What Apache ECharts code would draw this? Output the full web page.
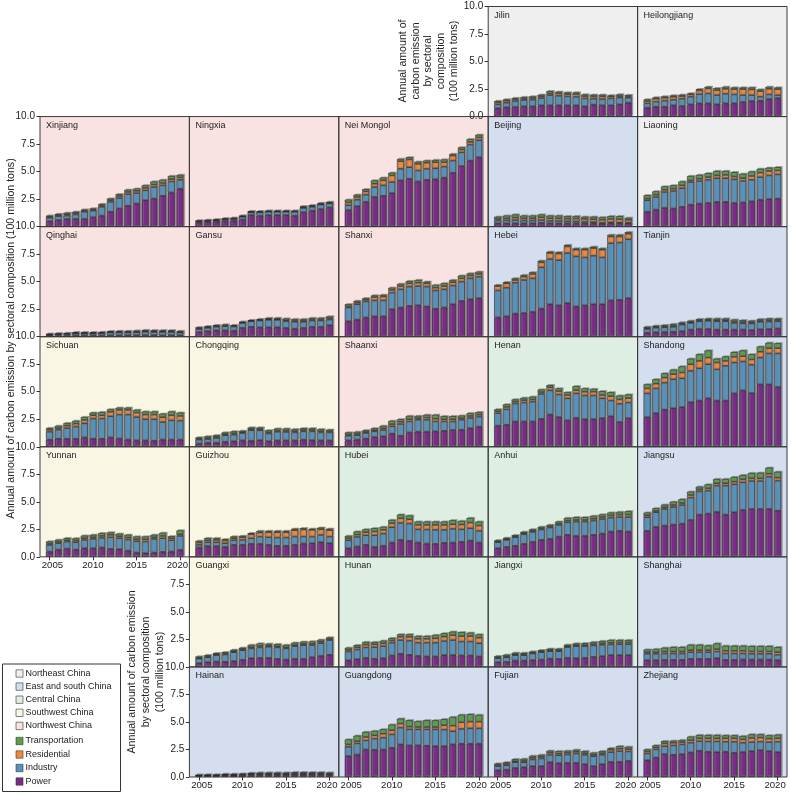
<!DOCTYPE html>
<html>
<head>
<meta charset="utf-8">
<script src="https://cdn.jsdelivr.net/npm/echarts@6/dist/echarts.min.js"></script>
<style>
  html, body { margin: 0; padding: 0; background: #fff; }
  #chart { width: 791px; height: 795px; }
</style>
</head>
<body>
<div id="chart"></div>
<script>
const years = ['2005', '2006', '2007', '2008', '2009', '2010', '2011', '2012', '2013', '2014', '2015', '2016', '2017', '2018', '2019', '2020'];
const yearTicks = ['2005', '2010', '2015', '2020'];
const sectors = ['Power', 'Industry', 'Residential', 'Transportation'];
const regions = ['Northeast China', 'East and south China', 'Central China', 'Southwest China', 'Northwest China'];

// each province: [power, industry, residential, transportation], 100 million tons
const Jilin = [
  [0.75,0.84,0.87,0.93,0.93,1.02,1.02,1.02,1.02,1.02,0.93,1.08,1.02,1.02,1.11,1.26],
  [0.36,0.42,0.54,0.57,0.60,0.66,0.93,0.87,0.81,0.78,0.72,0.54,0.57,0.63,0.60,0.45],
  [0.18,0.18,0.15,0.12,0.15,0.15,0.15,0.21,0.21,0.24,0.21,0.21,0.24,0.18,0.15,0.12],
  [0.12,0.12,0.12,0.15,0.15,0.15,0.21,0.15,0.15,0.15,0.15,0.15,0.15,0.09,0.15,0.12]];
const Heilongjiang = [
  [0.81,0.90,0.90,1.02,0.96,1.11,1.20,1.20,1.11,1.20,1.20,1.32,1.41,1.44,1.59,1.68],
  [0.39,0.45,0.54,0.51,0.66,0.69,0.84,0.90,0.84,0.87,0.81,0.63,0.54,0.36,0.42,0.27],
  [0.21,0.27,0.27,0.27,0.24,0.21,0.33,0.45,0.45,0.45,0.48,0.54,0.51,0.51,0.51,0.54],
  [0.15,0.12,0.12,0.12,0.12,0.09,0.12,0.15,0.18,0.18,0.15,0.15,0.18,0.15,0.18,0.15]];
const Xinjiang = [
  [0.50,0.60,0.70,0.70,0.70,0.85,1.00,1.35,1.65,1.90,2.10,2.40,2.55,2.80,3.10,3.45],
  [0.30,0.35,0.30,0.40,0.65,0.60,0.80,0.90,0.95,1.05,0.95,0.90,1.05,0.95,1.00,0.80],
  [0.10,0.10,0.12,0.12,0.10,0.10,0.12,0.15,0.18,0.20,0.20,0.22,0.22,0.22,0.22,0.22],
  [0.10,0.10,0.13,0.13,0.10,0.10,0.13,0.15,0.17,0.20,0.20,0.23,0.28,0.28,0.28,0.23]];
const Ningxia = [
  [0.35,0.40,0.45,0.50,0.55,0.65,1.05,1.00,1.05,1.05,1.05,1.00,1.30,1.45,1.60,1.75],
  [0.12,0.12,0.12,0.15,0.15,0.25,0.25,0.30,0.30,0.30,0.30,0.35,0.40,0.35,0.40,0.35],
  [0.03,0.03,0.03,0.04,0.04,0.04,0.04,0.04,0.04,0.04,0.04,0.04,0.06,0.06,0.06,0.06],
  [0.05,0.05,0.05,0.06,0.06,0.06,0.06,0.06,0.06,0.06,0.06,0.06,0.09,0.09,0.09,0.09]];
const NeiMongol = [
  [1.50,1.85,2.25,2.70,2.80,3.05,4.20,4.35,4.10,4.25,4.30,4.45,4.90,5.50,6.00,6.30],
  [0.45,0.60,0.65,0.90,0.95,1.00,1.05,1.05,1.00,1.00,1.00,1.00,1.10,1.25,1.45,1.55],
  [0.25,0.25,0.30,0.30,0.45,0.60,0.70,0.70,0.60,0.55,0.55,0.40,0.45,0.25,0.25,0.25],
  [0.25,0.20,0.20,0.30,0.25,0.25,0.20,0.20,0.20,0.20,0.20,0.25,0.15,0.20,0.25,0.25]];
const Beijing = [
  [0.30,0.30,0.30,0.30,0.30,0.35,0.30,0.30,0.30,0.30,0.30,0.30,0.25,0.30,0.30,0.30],
  [0.25,0.27,0.30,0.25,0.25,0.25,0.22,0.22,0.20,0.18,0.15,0.12,0.10,0.10,0.08,0.07],
  [0.15,0.18,0.22,0.20,0.20,0.25,0.23,0.23,0.22,0.25,0.25,0.25,0.27,0.30,0.30,0.25],
  [0.20,0.25,0.28,0.25,0.25,0.25,0.25,0.25,0.23,0.22,0.20,0.23,0.23,0.25,0.27,0.18]];
const Liaoning = [
  [1.35,1.55,1.70,1.65,1.80,2.00,2.10,2.15,2.25,2.25,2.15,2.20,2.30,2.45,2.50,2.55],
  [1.05,1.15,1.45,1.60,1.70,2.05,2.05,2.10,2.15,2.15,2.15,1.95,1.95,2.05,2.15,2.20],
  [0.15,0.20,0.20,0.20,0.25,0.15,0.20,0.25,0.25,0.30,0.25,0.25,0.35,0.40,0.40,0.35],
  [0.30,0.30,0.30,0.30,0.35,0.40,0.35,0.35,0.40,0.35,0.40,0.40,0.40,0.35,0.30,0.30]];
const Qinghai = [
  [0.08,0.10,0.10,0.12,0.12,0.12,0.12,0.13,0.13,0.14,0.15,0.15,0.15,0.13,0.15,0.14],
  [0.10,0.12,0.14,0.18,0.18,0.18,0.20,0.25,0.26,0.25,0.26,0.30,0.28,0.30,0.28,0.24],
  [0.03,0.03,0.03,0.04,0.04,0.04,0.04,0.05,0.05,0.05,0.05,0.06,0.06,0.06,0.06,0.05],
  [0.04,0.05,0.06,0.06,0.06,0.06,0.06,0.07,0.08,0.08,0.09,0.09,0.09,0.09,0.09,0.09]];
const Gansu = [
  [0.43,0.50,0.58,0.58,0.55,0.80,0.90,0.85,0.85,0.85,0.80,0.73,0.80,0.90,0.90,1.05],
  [0.27,0.30,0.32,0.37,0.37,0.45,0.50,0.62,0.68,0.68,0.60,0.62,0.55,0.57,0.57,0.50],
  [0.06,0.07,0.07,0.07,0.07,0.05,0.05,0.05,0.07,0.07,0.10,0.10,0.10,0.08,0.08,0.12],
  [0.09,0.08,0.08,0.08,0.06,0.05,0.05,0.08,0.10,0.10,0.15,0.15,0.15,0.15,0.15,0.17]];
const Shanxi = [
  [1.40,1.55,1.75,1.85,1.85,2.50,2.65,2.80,2.85,2.75,2.55,2.65,2.95,3.25,3.40,3.50],
  [1.25,1.40,1.45,1.45,1.45,1.50,1.65,1.75,1.75,1.80,1.65,1.65,1.70,1.75,1.90,1.95],
  [0.10,0.15,0.15,0.30,0.35,0.25,0.30,0.30,0.30,0.30,0.25,0.30,0.30,0.30,0.25,0.25],
  [0.20,0.15,0.15,0.15,0.15,0.20,0.20,0.20,0.25,0.15,0.25,0.25,0.20,0.25,0.20,0.20]];
const Hebei = [
  [1.75,1.85,2.10,2.15,2.25,2.55,2.95,2.85,3.05,2.75,2.85,2.95,2.95,3.30,3.35,3.50],
  [2.45,2.60,2.80,3.00,3.05,3.75,4.10,4.10,4.55,4.55,4.35,4.40,4.25,5.20,5.20,5.35],
  [0.40,0.40,0.25,0.30,0.40,0.45,0.55,0.60,0.60,0.60,0.70,0.70,0.70,0.60,0.55,0.50],
  [0.10,0.10,0.15,0.15,0.15,0.15,0.12,0.12,0.12,0.12,0.12,0.12,0.12,0.15,0.15,0.15]];
const Tianjin = [
  [0.37,0.40,0.43,0.45,0.50,0.65,0.70,0.70,0.65,0.65,0.65,0.65,0.60,0.67,0.70,0.75],
  [0.33,0.42,0.42,0.45,0.60,0.60,0.70,0.75,0.75,0.75,0.60,0.57,0.60,0.68,0.67,0.65],
  [0.08,0.08,0.08,0.10,0.08,0.08,0.08,0.08,0.10,0.10,0.12,0.12,0.10,0.10,0.12,0.12],
  [0.12,0.10,0.12,0.15,0.12,0.12,0.12,0.12,0.15,0.15,0.18,0.16,0.15,0.15,0.16,0.13]];
const Sichuan = [
  [0.65,0.73,0.73,0.73,0.85,0.73,0.73,0.85,0.75,0.65,0.58,0.58,0.55,0.65,0.65,0.65],
  [0.72,0.82,0.97,1.10,1.28,1.83,1.83,1.92,2.17,2.27,2.12,1.92,1.95,1.60,1.75,1.72],
  [0.18,0.15,0.22,0.27,0.31,0.30,0.30,0.40,0.43,0.43,0.40,0.42,0.42,0.43,0.46,0.43],
  [0.15,0.20,0.23,0.25,0.26,0.24,0.29,0.23,0.20,0.20,0.25,0.28,0.28,0.32,0.34,0.30]];
const Chongqing = [
  [0.30,0.37,0.37,0.45,0.50,0.58,0.55,0.60,0.50,0.58,0.58,0.58,0.65,0.60,0.58,0.58],
  [0.35,0.33,0.43,0.60,0.60,0.67,0.95,0.90,0.70,0.79,0.77,0.72,0.75,0.80,0.72,0.72],
  [0.08,0.10,0.10,0.10,0.12,0.08,0.10,0.10,0.12,0.10,0.12,0.12,0.12,0.12,0.12,0.10],
  [0.12,0.15,0.15,0.15,0.18,0.12,0.15,0.15,0.18,0.18,0.18,0.18,0.16,0.16,0.18,0.15]];
const Shaanxi = [
  [0.58,0.65,0.75,0.88,0.95,1.20,1.00,1.30,1.37,1.37,1.40,1.45,1.52,1.55,1.68,1.83],
  [0.42,0.40,0.50,0.52,0.57,0.66,1.07,1.00,1.08,1.08,0.90,0.85,0.78,0.90,0.94,0.91],
  [0.12,0.12,0.10,0.10,0.15,0.20,0.20,0.20,0.15,0.20,0.25,0.20,0.20,0.15,0.18,0.18],
  [0.18,0.18,0.15,0.18,0.23,0.29,0.23,0.30,0.20,0.25,0.35,0.28,0.28,0.23,0.25,0.23]];
const Henan = [
  [1.92,2.00,2.30,2.30,2.30,2.53,2.93,2.70,2.40,2.62,2.50,2.50,2.60,2.77,2.25,2.60],
  [1.13,1.40,1.63,1.72,1.80,2.27,2.20,2.05,2.00,2.23,2.16,2.16,1.80,1.43,1.65,1.42],
  [0.18,0.22,0.17,0.22,0.20,0.17,0.27,0.31,0.30,0.30,0.34,0.34,0.30,0.40,0.40,0.40],
  [0.17,0.23,0.20,0.21,0.25,0.23,0.20,0.24,0.25,0.35,0.30,0.25,0.35,0.35,0.35,0.33]];
const Shandong = [
  [2.68,3.05,3.38,3.50,3.60,4.05,4.20,4.40,4.20,4.20,4.85,5.12,4.88,5.67,5.67,5.43],
  [2.17,2.25,2.44,2.63,2.62,2.85,2.93,3.10,2.83,3.15,2.80,2.63,2.57,2.43,2.81,3.05],
  [0.45,0.43,0.46,0.47,0.52,0.60,0.67,0.60,0.62,0.45,0.52,0.48,0.48,0.53,0.48,0.48],
  [0.37,0.40,0.39,0.40,0.56,0.50,0.60,0.65,0.35,0.40,0.43,0.52,0.47,0.47,0.49,0.44]];
const Yunnan = [
  [0.48,0.66,0.75,0.66,0.78,0.78,0.85,0.72,0.70,0.57,0.39,0.33,0.39,0.45,0.48,0.63],
  [0.60,0.58,0.63,0.67,0.76,0.85,0.87,1.06,1.00,1.00,1.03,1.06,1.24,1.24,1.03,1.27],
  [0.12,0.12,0.13,0.15,0.15,0.15,0.18,0.22,0.17,0.18,0.18,0.21,0.15,0.21,0.18,0.15],
  [0.20,0.19,0.19,0.20,0.24,0.22,0.25,0.22,0.23,0.25,0.25,0.25,0.22,0.28,0.18,0.35]];
const Guizhou = [
  [0.85,0.97,0.97,0.90,1.09,1.09,1.18,1.18,1.09,1.00,1.00,1.09,1.21,1.24,1.33,1.24],
  [0.24,0.36,0.36,0.34,0.42,0.45,0.51,0.66,0.69,0.75,0.75,0.75,0.63,0.60,0.66,0.60],
  [0.21,0.18,0.21,0.24,0.18,0.24,0.36,0.36,0.45,0.48,0.48,0.58,0.64,0.61,0.51,0.58],
  [0.15,0.19,0.16,0.12,0.16,0.12,0.10,0.15,0.12,0.12,0.12,0.13,0.12,0.10,0.15,0.13]];
const Hubei = [
  [0.78,0.94,1.09,0.90,1.00,1.30,1.54,1.45,1.30,1.20,1.18,1.27,1.30,1.36,1.48,1.30],
  [0.73,0.87,0.87,1.06,1.11,1.39,1.54,1.57,1.20,1.28,1.27,1.18,1.24,1.14,1.12,1.06],
  [0.18,0.21,0.28,0.34,0.34,0.36,0.42,0.39,0.40,0.42,0.45,0.45,0.42,0.43,0.51,0.48],
  [0.21,0.28,0.26,0.30,0.27,0.30,0.34,0.34,0.30,0.30,0.30,0.30,0.36,0.33,0.42,0.36]];
const Anhui = [
  [0.78,0.90,1.00,1.18,1.36,1.54,1.63,1.84,2.00,1.90,1.90,2.00,2.11,2.30,2.36,2.30],
  [0.55,0.64,0.78,0.87,0.91,0.94,1.03,1.06,1.14,1.30,1.30,1.29,1.33,1.26,1.26,1.32],
  [0.07,0.08,0.08,0.10,0.10,0.10,0.10,0.12,0.15,0.15,0.15,0.17,0.18,0.20,0.22,0.22],
  [0.10,0.10,0.10,0.12,0.13,0.14,0.14,0.18,0.24,0.25,0.25,0.26,0.23,0.26,0.24,0.30]];
const Jiangsu = [
  [2.36,2.72,2.84,2.93,3.02,3.35,3.84,3.93,4.08,3.84,4.05,4.26,4.35,4.35,4.35,4.20],
  [1.24,1.33,1.51,1.60,1.69,2.03,2.11,2.08,2.39,2.63,2.54,2.51,2.54,2.54,2.93,2.72],
  [0.18,0.12,0.15,0.18,0.18,0.24,0.18,0.21,0.21,0.21,0.24,0.27,0.24,0.24,0.27,0.27],
  [0.24,0.24,0.24,0.29,0.34,0.30,0.24,0.36,0.39,0.39,0.42,0.39,0.48,0.51,0.55,0.54]];
const Guangxi = [
  [0.34,0.43,0.49,0.46,0.52,0.64,0.79,0.82,0.82,0.73,0.67,0.73,0.73,0.88,1.00,1.10],
  [0.42,0.45,0.58,0.67,0.82,0.88,0.89,0.95,1.01,1.04,1.01,1.16,1.25,1.10,1.16,1.34],
  [0.06,0.07,0.08,0.08,0.08,0.10,0.12,0.14,0.10,0.10,0.10,0.10,0.10,0.12,0.12,0.10],
  [0.13,0.12,0.10,0.13,0.13,0.12,0.20,0.22,0.17,0.20,0.22,0.21,0.21,0.22,0.19,0.14]];
const Hunan = [
  [0.60,0.70,0.82,0.73,0.79,1.04,1.19,1.10,1.00,0.95,0.95,1.07,1.07,1.04,1.04,0.95],
  [0.80,0.88,0.95,1.07,1.10,1.16,1.25,1.28,1.20,1.25,1.25,1.28,1.37,1.26,1.26,1.20],
  [0.15,0.20,0.25,0.25,0.25,0.20,0.30,0.35,0.35,0.35,0.40,0.40,0.45,0.50,0.50,0.50],
  [0.19,0.20,0.24,0.21,0.24,0.22,0.22,0.23,0.25,0.25,0.30,0.30,0.31,0.35,0.30,0.30]];
const Jiangxi = [
  [0.43,0.46,0.58,0.58,0.61,0.67,0.76,0.73,0.82,0.79,0.82,0.91,0.98,1.07,1.07,1.07],
  [0.36,0.42,0.49,0.49,0.61,0.67,0.67,0.70,0.98,1.10,1.07,1.04,1.03,0.97,1.00,1.00],
  [0.06,0.07,0.07,0.07,0.07,0.07,0.08,0.08,0.08,0.09,0.10,0.12,0.13,0.15,0.15,0.15],
  [0.13,0.15,0.14,0.14,0.11,0.11,0.14,0.14,0.13,0.15,0.17,0.19,0.21,0.25,0.22,0.22]];
const Shanghai = [
  [0.61,0.61,0.64,0.64,0.64,0.73,0.73,0.73,0.79,0.64,0.64,0.67,0.67,0.67,0.67,0.61],
  [0.58,0.58,0.58,0.58,0.58,0.61,0.61,0.61,0.61,0.58,0.58,0.55,0.52,0.52,0.52,0.49],
  [0.15,0.15,0.18,0.18,0.18,0.18,0.18,0.18,0.22,0.24,0.24,0.24,0.21,0.21,0.21,0.24],
  [0.24,0.28,0.34,0.40,0.40,0.49,0.49,0.43,0.51,0.46,0.46,0.46,0.49,0.49,0.49,0.46]];
const Hainan = [
  [0.08,0.09,0.09,0.11,0.11,0.12,0.15,0.16,0.16,0.16,0.16,0.17,0.17,0.17,0.17,0.16],
  [0.05,0.05,0.05,0.07,0.07,0.08,0.10,0.10,0.10,0.10,0.10,0.10,0.10,0.10,0.10,0.09],
  [0.02,0.02,0.02,0.03,0.03,0.03,0.04,0.04,0.04,0.04,0.04,0.05,0.05,0.05,0.05,0.05],
  [0.03,0.04,0.04,0.06,0.06,0.07,0.08,0.10,0.10,0.10,0.10,0.11,0.11,0.11,0.11,0.10]];
const Guangdong = [
  [1.89,2.04,2.50,2.47,2.50,2.65,2.96,2.87,2.87,2.84,2.80,2.80,2.96,3.02,3.02,3.02],
  [0.85,1.01,0.82,1.01,1.07,1.22,1.52,1.46,1.46,1.49,1.53,1.50,1.20,1.35,1.40,1.40],
  [0.22,0.21,0.31,0.30,0.36,0.37,0.37,0.24,0.21,0.21,0.21,0.40,0.50,0.60,0.60,0.60],
  [0.45,0.49,0.46,0.40,0.40,0.52,0.45,0.58,0.52,0.61,0.61,0.55,0.79,0.68,0.68,0.62]];
const Fujian = [
  [0.61,0.67,0.82,0.88,0.98,0.98,1.34,1.25,1.28,1.28,1.16,0.98,1.16,1.37,1.37,1.46],
  [0.37,0.40,0.52,0.46,0.61,0.70,0.67,0.73,0.76,0.85,0.85,0.91,0.85,0.89,0.98,0.86],
  [0.12,0.12,0.09,0.12,0.15,0.15,0.19,0.15,0.16,0.16,0.15,0.12,0.15,0.21,0.21,0.21],
  [0.12,0.15,0.19,0.19,0.18,0.18,0.18,0.22,0.18,0.18,0.19,0.19,0.19,0.15,0.24,0.21]];
const Zhejiang = [
  [1.52,1.77,2.07,2.01,2.07,2.23,2.38,2.29,2.26,2.29,2.20,2.26,2.35,2.44,2.35,2.26],
  [0.61,0.73,0.73,0.86,0.89,0.88,0.88,0.94,0.97,0.91,1.00,0.85,0.82,0.76,0.82,0.94],
  [0.19,0.18,0.25,0.24,0.21,0.24,0.25,0.28,0.28,0.31,0.31,0.30,0.37,0.37,0.31,0.31],
  [0.18,0.19,0.21,0.18,0.18,0.31,0.30,0.30,0.30,0.27,0.27,0.31,0.33,0.30,0.30,0.33]];

// name, data, row, column, region index
const panels = [
  ['Jilin', Jilin, 0, 3, 0], ['Heilongjiang', Heilongjiang, 0, 4, 0],
  ['Xinjiang', Xinjiang, 1, 0, 4], ['Ningxia', Ningxia, 1, 1, 4], ['Nei Mongol', NeiMongol, 1, 2, 4],
  ['Beijing', Beijing, 1, 3, 1], ['Liaoning', Liaoning, 1, 4, 0],
  ['Qinghai', Qinghai, 2, 0, 4], ['Gansu', Gansu, 2, 1, 4], ['Shanxi', Shanxi, 2, 2, 4],
  ['Hebei', Hebei, 2, 3, 1], ['Tianjin', Tianjin, 2, 4, 1],
  ['Sichuan', Sichuan, 3, 0, 3], ['Chongqing', Chongqing, 3, 1, 3], ['Shaanxi', Shaanxi, 3, 2, 4],
  ['Henan', Henan, 3, 3, 2], ['Shandong', Shandong, 3, 4, 1],
  ['Yunnan', Yunnan, 4, 0, 3], ['Guizhou', Guizhou, 4, 1, 3], ['Hubei', Hubei, 4, 2, 2],
  ['Anhui', Anhui, 4, 3, 2], ['Jiangsu', Jiangsu, 4, 4, 1],
  ['Guangxi', Guangxi, 5, 1, 3], ['Hunan', Hunan, 5, 2, 2], ['Jiangxi', Jiangxi, 5, 3, 2], ['Shanghai', Shanghai, 5, 4, 1],
  ['Hainan', Hainan, 6, 1, 1], ['Guangdong', Guangdong, 6, 2, 1], ['Fujian', Fujian, 6, 3, 1], ['Zhejiang', Zhejiang, 6, 4, 1]
];

const sectorColors = ['#7a2b87', '#5792bd', '#f0883a', '#5aa04a'];
const regionColors = ['#efefef', '#d4deef', '#deeee2', '#faf6e4', '#f9e2e2'];
const font = 'Liberation Sans, Arial, sans-serif';

const left0 = 40, top0 = 6.5, cellW = 149.4, cellH = 110.07;
const slot = 8.7, padX = (cellW - slot * years.length) / 2;

const grid = [], xAxis = [], yAxis = [], series = [], graphic = [];

const leftmost = {};
panels.forEach(p => { if (leftmost[p[2]] === undefined || p[3] < leftmost[p[2]]) leftmost[p[2]] = p[3]; });
const hasPanel = (r, c) => panels.some(p => p[2] === r && p[3] === c);
const isTick = (idx, val) => yearTicks.indexOf(val) >= 0;

panels.forEach(([name, data, row, col, region], i) => {
  const left = left0 + col * cellW, top = top0 + row * cellH;

  // panel background and frame
  graphic.push({
    type: 'rect', z: -10, silent: true,
    shape: { x: left, y: top, width: cellW, height: cellH },
    style: { fill: regionColors[region] }
  });
  graphic.push({
    type: 'rect', z: 50, silent: true,
    shape: { x: left, y: top, width: cellW, height: cellH },
    style: { fill: 'none', stroke: '#3a3a3a', lineWidth: 1 }
  });

  grid.push({ left: left + padX, top: top, width: slot * years.length, height: cellH });

  const xLab = !hasPanel(row + 1, col);
  xAxis.push({
    gridIndex: i, type: 'category', data: years, boundaryGap: true,
    axisLine: { show: false }, splitLine: { show: false },
    axisTick: { show: xLab, alignWithLabel: true, interval: isTick, length: 3.5, lineStyle: { color: '#333' } },
    axisLabel: {
      show: xLab, interval: isTick, margin: 3, fontSize: 9.6, color: '#222', fontFamily: font,
      formatter: v => v === '2005' ? '{first|' + v + '}' : v === '2020' ? '{last|' + v + '}' : v,
      rich: {
        first: { fontSize: 9.6, fontFamily: font, color: '#222', padding: [0, 0, 0, 6] },
        last: { fontSize: 9.6, fontFamily: font, color: '#222', padding: [0, 5, 0, 0] }
      }
    }
  });

  const yLab = leftmost[row] === col;
  const showMin = !(leftmost[row + 1] === col);
  const showMax = !(leftmost[row - 1] !== undefined && leftmost[row - 1] < col);
  yAxis.push({
    gridIndex: i, type: 'value', min: 0, max: 10, interval: 2.5, offset: padX,
    axisLine: { show: false }, splitLine: { show: false },
    axisTick: { show: yLab, length: 3.5, lineStyle: { color: '#333' } },
    axisLabel: {
      show: yLab, margin: 5, fontSize: 10, color: '#222', fontFamily: font,
      showMinLabel: showMin, showMaxLabel: showMax,
      formatter: v => v.toFixed(1)
    }
  });

  sectors.forEach((s, k) => {
    series.push({
      type: 'bar', name: s, xAxisIndex: i, yAxisIndex: i, stack: 'p' + i,
      barWidth: 7, silent: true,
      data: data[k],
      itemStyle: {
        color: sectorColors[k], borderColor: '#262626', borderWidth: 0.6,
        shadowColor: 'rgba(125,125,125,0.8)', shadowBlur: 0, shadowOffsetX: 1.5, shadowOffsetY: -1
      }
    });
  });

  graphic.push({
    type: 'text', left: left + 6, top: top + 4.5, silent: true, z: 60,
    style: { text: name, fontSize: 9, fontFamily: font, fill: '#222' }
  });
});

// axis titles
const titleStyle = { fontSize: 10.6, fontFamily: font, fill: '#222', align: 'center', verticalAlign: 'middle', lineHeight: 12.8 };
graphic.push({
  type: 'text', x: 428.5, y: 61, rotation: Math.PI / 2, silent: true,
  style: Object.assign({ text: 'Annual amount of\ncarbon emission\nby sectoral\ncomposition\n(100 million tons)' }, titleStyle)
});
graphic.push({
  type: 'text', x: 11, y: 338.5, rotation: Math.PI / 2, silent: true,
  style: Object.assign({ text: 'Annual amount of carbon emission by sectoral composition (100 million tons)' }, titleStyle)
});
graphic.push({
  type: 'text', x: 146, y: 672, rotation: Math.PI / 2, silent: true,
  style: Object.assign({ text: 'Annual amount of carbon emission\nby sectoral composition\n(100 million tons)' }, titleStyle, { lineHeight: 13.8 })
});

// legend box
graphic.push({
  type: 'rect', silent: true,
  shape: { x: 2.5, y: 664, width: 118, height: 127.5 },
  style: { fill: '#fff', stroke: '#333', lineWidth: 1 }
});
const legendItems = regions.map((r, i) => [r, regionColors[i], 673.5 + i * 13.1])
  .concat(sectors.slice().reverse().map((s, i) => [s, sectorColors[3 - i], 741 + i * 13.5]));
legendItems.forEach(([label, color, cy]) => {
  graphic.push({
    type: 'rect', silent: true,
    shape: { x: 16, y: cy - 3.7, width: 7, height: 7.4 },
    style: { fill: color, stroke: '#333', lineWidth: 0.6 }
  });
  graphic.push({
    type: 'text', x: 25.5, y: cy, silent: true,
    style: { text: label, fontSize: 9, fontFamily: font, fill: '#222', verticalAlign: 'middle' }
  });
});

const chart = echarts.init(document.getElementById('chart'), null, { renderer: 'canvas' });
chart.setOption({
  animation: false,
  backgroundColor: '#fff',
  grid, xAxis, yAxis, series, graphic
});
</script>
</body>
</html>
